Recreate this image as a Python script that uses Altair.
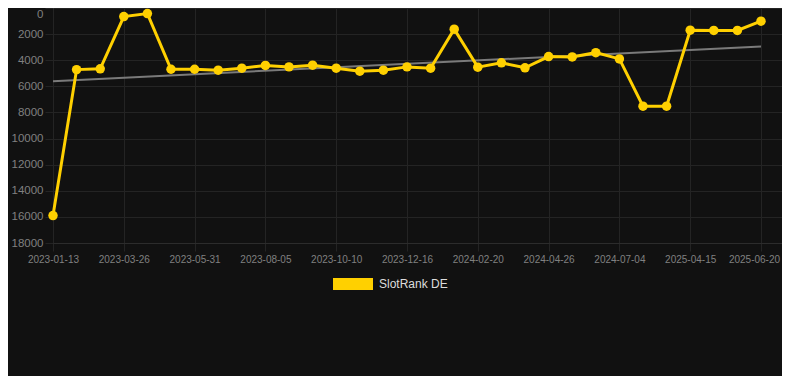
import altair as alt
import pandas as pd

# ---- data ----
series_name = "SlotRank DE"
ranks = [15900, 4720, 4660, 660, 430, 4690, 4690, 4760, 4610, 4400, 4510,
         4380, 4610, 4840, 4760, 4510, 4610, 1620, 4530, 4200, 4580, 3720,
         3750, 3420, 3900, 7520, 7520, 1700, 1720, 1720, 1010]
tick_labels = ["2023-01-13", "2023-03-26", "2023-05-31", "2023-08-05",
               "2023-10-10", "2023-12-16", "2024-02-20", "2024-04-26",
               "2024-07-04", "2025-04-15", "2025-06-20"]
tick_step = 3
y_ticks = [0, 2000, 4000, 6000, 8000, 10000, 12000, 14000, 16000, 18000]

# ---- styling ----
GOLD = "#FFD000"
BG = "#111111"
GRID = "#242424"
FONT = "Liberation Sans"

df = pd.DataFrame({"idx": list(range(len(ranks))), "rank": ranks,
                   "series": [series_name] * len(ranks)})

plot_w = 729
plot_h = 235
px_per_step = 708 / (len(ranks) - 1)
x_max = plot_w / px_per_step
last_tick = (len(ranks) - 1) // tick_step * tick_step

x_scale = alt.Scale(domain=[0, x_max], nice=False, zero=False)
y_scale = alt.Scale(domain=[0, 18000], reverse=True, nice=False, zero=False)

label_expr = "[" + ",".join("'%s'" % t for t in tick_labels) + "][round(datum.value / %d)]" % tick_step

x_axis = alt.Axis(values=list(range(0, len(ranks), tick_step)), labelExpr=label_expr,
                  grid=True, gridColor=GRID, gridWidth=1, ticks=True, tickColor=GRID,
                  tickSize=8, domain=True, domainColor="#2c2c2c", labelColor="#808080",
                  labelFontSize=10, labelFont=FONT, labelPadding=3, labelAngle=0,
                  labelFlush=False, labelOverlap=False, title=None,
                  labelOffset={"condition": {"test": "datum.value == %d" % last_tick, "value": -7},
                               "value": 0})
y_axis = alt.Axis(values=y_ticks, format="d", grid=True, gridColor=GRID, gridWidth=1,
                  ticks=True, tickColor=GRID, tickSize=8, domain=False,
                  labelColor="#808080", labelFontSize=11.5, labelFont=FONT,
                  labelPadding=2, title=None, labelFlush=False, labelOverlap=False,
                  labelBaseline={"condition": {"test": "datum.value == 0", "value": "top"},
                                 "value": "middle"})

x_enc = alt.X("idx:Q", scale=x_scale, axis=x_axis)
y_enc = alt.Y("rank:Q", scale=y_scale, axis=y_axis)

base = alt.Chart(df)

trend = base.transform_regression("idx", "rank").mark_line(
    color="#7a7a7a", strokeWidth=2
).encode(x=x_enc, y=y_enc)

line = base.mark_line(color=GOLD, strokeWidth=3).encode(x=x_enc, y=y_enc)

points = base.mark_point(filled=True, size=90, opacity=1).encode(
    x=x_enc,
    y=y_enc,
    color=alt.Color("series:N", scale=alt.Scale(domain=[series_name], range=[GOLD]),
                    legend=alt.Legend(title=None, orient="none", legendX=280, legendY=256,
                                      symbolType="M-1,-0.3H1V0.3H-1Z", symbolSize=1600,
                                      symbolOpacity=1, symbolStrokeWidth=0,
                                      labelColor="#dddddd", labelFontSize=12,
                                      labelFont=FONT, labelOffset=6, padding=0)),
)

chart = alt.layer(trend, line, points).properties(
    width=plot_w, height=plot_h,
    autosize=alt.AutoSizeParams(type="none"),
    padding={"left": 45, "top": 0, "right": 0, "bottom": 133},
    background=BG,
).configure_view(strokeWidth=0).configure(font=FONT)

chart.save("out.html", embed_options={"renderer": "svg", "actions": False})
